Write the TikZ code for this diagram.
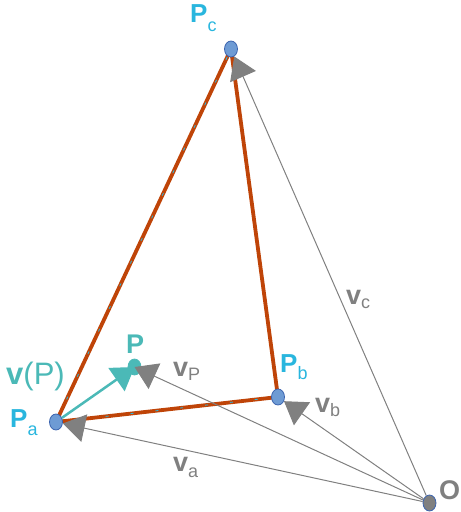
\documentclass[tikz,border=0pt]{standalone}
\usepackage{fontspec}
\setmainfont{Liberation Sans}
\usetikzlibrary{arrows.meta,shapes.geometric}
\definecolor{cyanlbl}{RGB}{41,182,222}
\definecolor{teal2}{RGB}{75,185,183}
\definecolor{gray2}{RGB}{128,128,128}
\definecolor{orng}{RGB}{191,68,8}
\definecolor{dotfill}{RGB}{110,155,212}
\definecolor{dotline}{RGB}{60,100,175}
\newcommand\mysub[2]{\raisebox{-#1pt}{\fontsize{18}{18}\selectfont\mdseries #2}}
\tikzset{
  pt/.style={ellipse,minimum width=13pt,minimum height=16pt,inner sep=0pt,draw=dotline,line width=0.8pt,fill=dotfill},
  edge/.style={draw=orng,line width=3.8pt,line cap=round},
  hint/.style={draw=cyanlbl,line width=0.8pt,dash pattern=on 3pt off 22pt},
  vec/.style={draw=gray2,line width=1pt,-{Triangle[length=22pt,width=28pt]}},
  tvec/.style={draw=teal2,line width=2.5pt,-{Triangle[length=22pt,width=28pt]}},
  lbl/.style={inner sep=0pt,anchor=base west,font=\fontsize{26}{26}\selectfont\bfseries},
  vlbl/.style={lbl,text=gray2,font=\fontsize{27}{27}\selectfont\bfseries},
}
\begin{document}
\begin{tikzpicture}[x=1pt,y=-1pt]
\useasboundingbox (0,0) rectangle (461,512);
\coordinate (A) at (56,422);
\coordinate (B) at (278,397);
\coordinate (C) at (231,49);
\draw[edge] (A) -- (C) -- (B) -- cycle;
\draw[hint] (A) -- (C);
\draw[hint] (A) -- (B);
\node[pt] (Pa) at (A) {};
\node[pt] (Pb) at (B) {};
\node[pt] (Pc) at (C) {};
\node[pt,fill=gray2] (O) at (429.5,503) {};
\node[pt,fill=teal2,draw=teal2] (P) at (134.5,367) {};
\draw[vec] (O) -- (Pa);
\draw[vec] (O) -- (Pb);
\draw[vec] (O) -- (Pc);
\draw[vec] (O) -- (P.center);
\draw[tvec] (Pa) -- (P.center);
\node[lbl,text=cyanlbl] (lPa) at (10,427) {P\mysub{8}{a}};
\node[lbl,text=cyanlbl] (lPb) at (280,372) {P\mysub{7}{b}};
\node[lbl,text=cyanlbl] (lPc) at (190,22) {P\mysub{9}{c}};
\node[lbl,text=teal2,font=\fontsize{27}{27}\selectfont\bfseries] (lP) at (126,353) {P};
\node[lbl,text=teal2,font=\fontsize{31}{31}\selectfont] (lvP) at (6,384) {\textbf{v}(P)};
\node[vlbl] (lva) at (173,471) {v\mysub{6}{a}};
\node[vlbl] (lvb) at (315,412) {v\mysub{4}{b}};
\node[vlbl] (lvc) at (346,304) {v\mysub{4}{c}};
\node[vlbl] (lvp) at (173,376) {v\mysub{4}{P}};
\node[lbl,text=gray2,font=\fontsize{27}{27}\selectfont\bfseries] (lO) at (439,499) {O};
\end{tikzpicture}
\end{document}
